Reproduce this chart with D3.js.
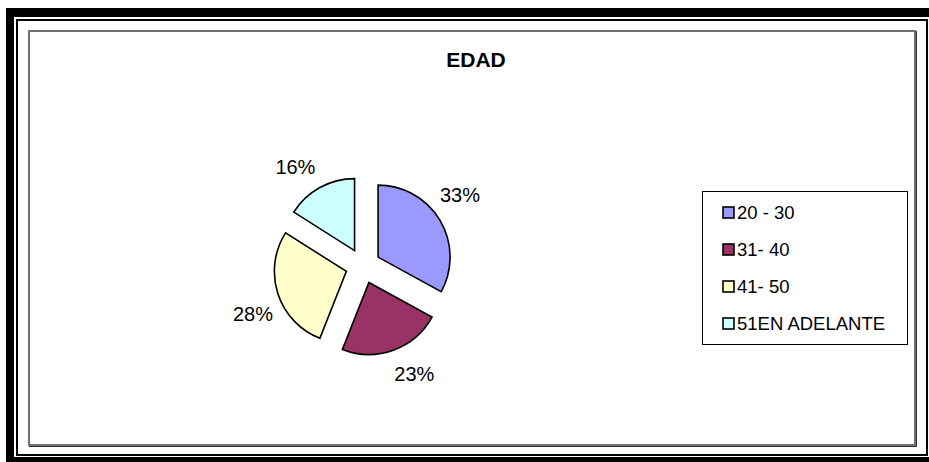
<!DOCTYPE html>
<html>
<head>
<meta charset="utf-8">
<script src="https://cdn.jsdelivr.net/npm/d3@7"></script>
<style>
html,body{margin:0;padding:0;background:#fff;}
svg{display:block;}
text{font-family:"Liberation Sans",Arial,sans-serif;fill:#000;}
</style>
</head>
<body>
<svg id="chart" width="929" height="462"></svg>
<script>
// ---- data ----
const title = "EDAD";
const categories = ["20 - 30", "31- 40", "41- 50", "51EN ADELANTE"];
const legendLabels = ["20 - 30", "31- 40", "41- 50", "51EN ADELANTE"];
const values = [33, 23, 28, 16];
const percentLabels = ["33%", "23%", "28%", "16%"];
const colors = ["#9999FF", "#993366", "#FFFFCC", "#CCFFFF"];

const svg = d3.select("#chart");
const W = 929, H = 462;

svg.append("rect").attr("width", W).attr("height", H).attr("fill", "#fff");

// page frame: thick outer + thin inner
const frame = svg.append("g");
frame.append("rect").attr("x", 6).attr("y", 8).attr("width", 940).attr("height", 9).attr("fill", "#000");
frame.append("rect").attr("x", 6).attr("y", 8).attr("width", 8).attr("height", 470).attr("fill", "#000");
frame.append("rect").attr("x", 6).attr("y", 457).attr("width", 940).attr("height", 10).attr("fill", "#000");
frame.append("rect").attr("x", 17).attr("y", 20).attr("width", 910).attr("height", 435)
  .attr("fill", "none").attr("stroke", "#000").attr("stroke-width", 2);

// chart area
svg.append("rect").attr("x", 29).attr("y", 31).attr("width", 886).attr("height", 414)
  .attr("fill", "#fff").attr("stroke", "#707070").attr("stroke-width", 2);
svg.append("path").attr("d", "M916.5,31V446.5H29")
  .attr("fill", "none").attr("stroke", "#303030").attr("stroke-width", 1);

// title
svg.append("text").attr("x", 476).attr("y", 67).attr("text-anchor", "middle")
  .attr("font-size", 21).attr("font-weight", "bold").text(title);

// pie
const cx = 363, cy = 266, R = 72, explode = 17.5, labelR = 120;
const pie = d3.pie().sort(null).value(d => d).startAngle(0).endAngle(2 * Math.PI);
const arcs = pie(values);
const arc = d3.arc().innerRadius(0).outerRadius(R);
const g = svg.append("g").attr("transform", `translate(${cx},${cy})`);

g.selectAll("path.slice").data(arcs).enter().append("path")
  .attr("class", "slice")
  .attr("d", arc)
  .attr("fill", (d, i) => colors[i])
  .attr("stroke", "#000").attr("stroke-width", 1.6).attr("stroke-linejoin", "miter")
  .attr("transform", d => {
    const a = (d.startAngle + d.endAngle) / 2;
    return `translate(${explode * Math.sin(a)},${-explode * Math.cos(a)})`;
  });

const rot = -5.5 * Math.PI / 180;
g.selectAll("text.pct").data(arcs).enter().append("text")
  .attr("class", "pct")
  .attr("x", d => labelR * Math.sin((d.startAngle + d.endAngle) / 2 + rot))
  .attr("y", d => -labelR * Math.cos((d.startAngle + d.endAngle) / 2 + rot))
  .attr("dy", "0.35em")
  .attr("text-anchor", "middle")
  .attr("font-size", 20)
  .text((d, i) => percentLabels[i]);

// legend
const lg = svg.append("g").attr("transform", "translate(702,191)");
lg.append("rect").attr("x", 0.5).attr("y", 0.5).attr("width", 205).attr("height", 153)
  .attr("fill", "#fff").attr("stroke", "#000").attr("stroke-width", 1);
const ly = d3.scalePoint().domain(categories).range([21, 132]);
const items = lg.selectAll("g.item").data(categories).enter().append("g")
  .attr("class", "item")
  .attr("transform", d => `translate(0,${ly(d)})`);
items.append("rect").attr("x", 21).attr("y", -5).attr("width", 11).attr("height", 11)
  .attr("fill", (d, i) => colors[i]).attr("stroke", "#000").attr("stroke-width", 1.6);
items.append("text").attr("x", 35).attr("y", 6.5)
  .attr("font-size", 18.5)
  .text((d, i) => legendLabels[i]);
</script>
</body>
</html>
